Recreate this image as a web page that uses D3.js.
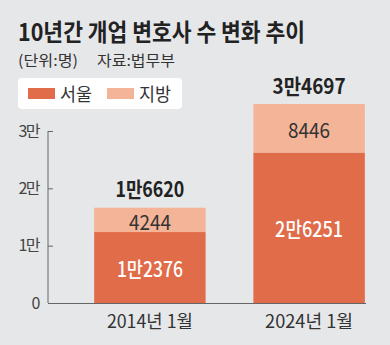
<!DOCTYPE html>
<html><head><meta charset="utf-8">
<script src="https://cdn.jsdelivr.net/npm/d3@7"></script>
<style>
html,body{margin:0;padding:0;background:#e6e7e9;}
svg{display:block;}
text{font-family:"Noto Sans CJK KR","Noto Sans",sans-serif;}
</style></head>
<body>
<svg id="c" width="390" height="345"></svg>
<script>
const categories = ["2014년 1월", "2024년 1월"];
const seoul = [12376, 26251];
const region = [4244, 8446];
const totals = [16620, 34697];
const seoulLabels = ["1만2376", "2만6251"];
const regionLabels = ["4244", "8446"];
const totalLabels = ["1만6620", "3만4697"];
const yTicks = [0, 10000, 20000, 30000];
const yTickLabels = ["0", "1만", "2만", "3만"];
const seriesNames = ["서울", "지방"];

const colors = {seoul:"#e06c49", region:"#f3b498"};
const svg = d3.select("#c");
svg.append("rect").attr("width",390).attr("height",345).attr("fill","#e6e7e9");

function fit(sel, w){ return sel.attr("textLength",w).attr("lengthAdjust","spacingAndGlyphs"); }

// title
fit(svg.append("text").attr("x",18).attr("y",41).attr("font-size",24).attr("font-weight",700)
  .attr("fill","#222"),287).text("10년간 개업 변호사 수 변화 추이");
fit(svg.append("text").attr("x",18).attr("y",66).attr("font-size",15).attr("fill","#333"),60).text("(단위:명)");
fit(svg.append("text").attr("x",97).attr("y",66).attr("font-size",15).attr("fill","#333"),78).text("자료:법무부");

// legend
svg.append("rect").attr("x",18).attr("y",78).attr("width",164).attr("height",31).attr("rx",4).attr("fill","#fff");
const legX = [28, 107];
const legCol = [colors.seoul, colors.region];
seriesNames.forEach((n,i)=>{
  svg.append("rect").attr("x",legX[i]).attr("y",88).attr("width",27).attr("height",11).attr("fill",legCol[i]);
  fit(svg.append("text").attr("x",legX[i]+32).attr("y",101).attr("font-size",18).attr("fill","#333"),32).text(n);
});

const y = d3.scaleLinear().domain([0,30000]).range([303,131]);
const x = d3.scaleBand().domain(categories).range([48,411]).paddingInner(0.3).paddingOuter(0.29);

// axes
const yAxis = d3.axisLeft(y).tickValues(yTicks).tickSize(-5).tickPadding(9)
  .tickFormat((d,i)=>yTickLabels[i]);
const gy = svg.append("g").attr("transform","translate(48,0)").call(yAxis);
gy.select(".domain").attr("stroke","#666").attr("d","M0,131V303");
gy.selectAll(".tick line").attr("stroke","#666");
gy.selectAll(".tick text").attr("font-size",16).attr("fill","#444")
  .attr("font-family",'"Noto Sans CJK KR",sans-serif').attr("letter-spacing",-1.5);

const seoulW = [66, 68], regionW = [42, 42], totalW = [69, 73], catW = [86, 88];

// bars
categories.forEach((c,i)=>{
  const bx = x(c), bw = x.bandwidth();
  svg.append("rect").attr("x",bx).attr("width",bw).attr("y",y(seoul[i])).attr("height",y(0)-y(seoul[i])).attr("fill",colors.seoul);
  svg.append("rect").attr("x",bx).attr("width",bw).attr("y",y(seoul[i]+region[i])).attr("height",y(seoul[i])-y(seoul[i]+region[i])).attr("fill",colors.region);
  const cx = bx+bw/2;
  fit(svg.append("text").attr("x",cx).attr("y",(y(0)+y(seoul[i]))/2+9.5).attr("text-anchor","middle")
    .attr("font-size",21).attr("font-weight",500).attr("fill","#fff"),seoulW[i]).text(seoulLabels[i]);
  fit(svg.append("text").attr("x",cx).attr("y",(y(seoul[i])+y(seoul[i]+region[i]))/2+10).attr("text-anchor","middle")
    .attr("font-size",21).attr("fill","#333"),regionW[i]).text(regionLabels[i]);
  fit(svg.append("text").attr("x",cx).attr("y",y(totals[i])-10.5).attr("text-anchor","middle")
    .attr("font-size",21).attr("font-weight",700).attr("fill","#222"),totalW[i]).text(totalLabels[i]);
  fit(svg.append("text").attr("x",cx).attr("y",328).attr("text-anchor","middle")
    .attr("font-size",18).attr("fill","#333"),catW[i]).text(c);
});

// baseline
svg.append("line").attr("x1",48).attr("x2",366).attr("y1",303.5).attr("y2",303.5).attr("stroke","#666");
</script>
</body></html>
